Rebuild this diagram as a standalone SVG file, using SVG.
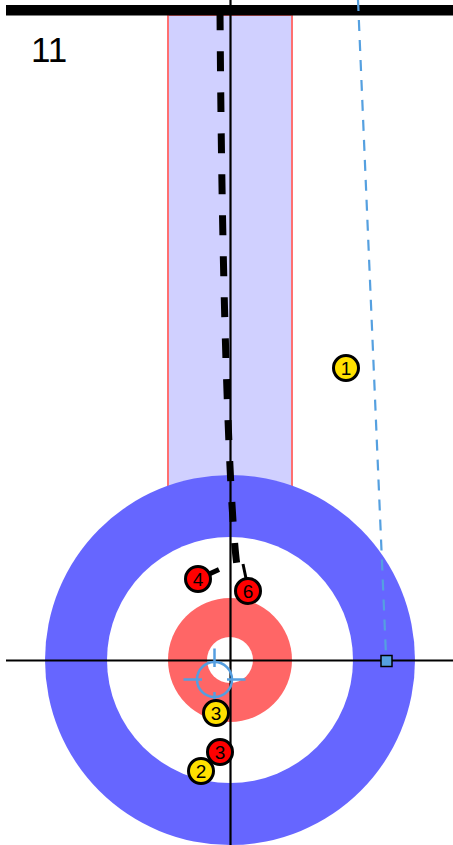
<svg xmlns="http://www.w3.org/2000/svg" width="453" height="845" viewBox="0 0 453 845">
<style>
.stone{stroke:#000;stroke-width:3}
.y{fill:#ffe000}
.r{fill:#ff0000}
.num{font-family:"Liberation Sans",Arial,sans-serif;font-size:19px;text-anchor:middle;fill:#000}
.axis{stroke:#000;stroke-width:2.2;fill:none}
.cross{stroke:#559ee0;stroke-width:2.5;fill:none}
</style>
<rect width="453" height="845" fill="#fff"/>
<g id="sheet">
<rect id="lane" x="168" y="15" width="124" height="480" fill="#d0d0ff" stroke="#ff7070" stroke-width="2"/>
<circle id="ring12" cx="230" cy="660" r="185" fill="#6666ff"/>
<circle id="ring8" cx="230" cy="660" r="123" fill="#fff"/>
<circle id="ring4" cx="230" cy="660" r="62" fill="#ff6666"/>
<circle id="button" cx="230" cy="660" r="23" fill="#fff"/>
<rect id="backline" x="6" y="5" width="447" height="10.5" fill="#000"/>
<line class="axis" x1="230.5" y1="0" x2="230.5" y2="845"/>
<line class="axis" x1="6" y1="660.5" x2="453" y2="660.5"/>
<text x="31" y="62" font-family="Liberation Sans,Arial,sans-serif" font-size="35" fill="#000">11</text>
</g>
<g id="connectors">
<line x1="358" y1="0" x2="386" y2="656" stroke="#55a0e0" stroke-width="2.2" stroke-dasharray="11 9"/>
<path d="M220,10 C222,300 229,470 234,535 S240,558 244,566" fill="none" stroke="#000" stroke-width="7" stroke-dasharray="20 21"/>
<path d="M243,564 L248,588" fill="none" stroke="#000" stroke-width="3"/>
<line x1="207" y1="575" x2="219" y2="569.5" stroke="#000" stroke-width="5"/>
</g>
<g id="target">
<rect x="381" y="655.5" width="11" height="11" fill="#55a0e0" stroke="#000" stroke-width="1.5"/>
</g>
<g id="crosshair">
<circle class="cross" cx="214.5" cy="679.5" r="17.5"/>
<path class="cross" d="M214.5,648.5V667M214.5,692V711M183.5,679.5H202M227,679.5H245.5"/>
</g>
<g id="stone-y1"><circle class="stone y" cx="346" cy="368" r="12.5"/><text class="num" x="346" y="375">1</text></g>
<g id="stone-r4"><circle class="stone r" cx="198" cy="579" r="12.5"/><text class="num" x="198" y="586">4</text></g>
<g id="stone-r6"><circle class="stone r" cx="248" cy="591" r="12.5"/><text class="num" x="248" y="598">6</text></g>
<g id="stone-y3"><circle class="stone y" cx="216" cy="713" r="12.5"/><text class="num" x="216" y="720">3</text></g>
<g id="stone-r3"><circle class="stone r" cx="220" cy="752" r="12.5"/><text class="num" x="220" y="759">3</text></g>
<g id="stone-y2"><circle class="stone y" cx="201" cy="771" r="12.5"/><text class="num" x="201" y="778">2</text></g>
</svg>
